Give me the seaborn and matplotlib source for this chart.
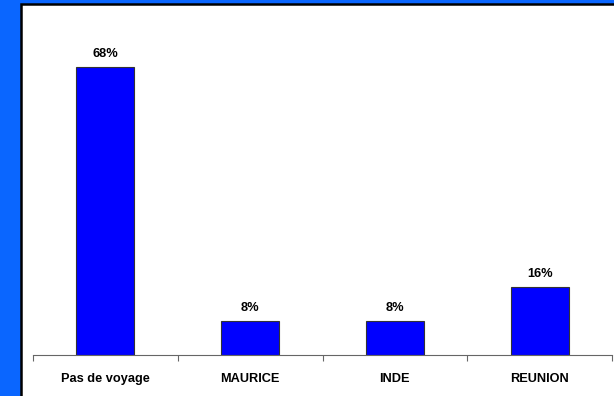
import matplotlib
matplotlib.use("Agg")
import matplotlib.pyplot as plt
import seaborn as sns
import pandas as pd
from matplotlib.patches import Rectangle

categories = ["Pas de voyage", "MAURICE", "INDE", "REUNION"]
values = [68, 8, 8, 16]
labels = ["68%", "8%", "8%", "16%"]

sns.set_style("white")
plt.rcParams['font.family'] = ['Liberation Sans', 'DejaVu Sans']

fig = plt.figure(figsize=(6.14, 3.96), dpi=100)
fig.patch.set_facecolor("#0A66FF")
fig.patches.append(Rectangle((21/614, -0.1), 1.0, (396-4)/396 + 0.1, transform=fig.transFigure,
                             facecolor="white", edgecolor="black", linewidth=1.8, zorder=-10))

ax = fig.add_axes([33/614, (396-355)/396, 579/614, (355-16)/396])
ax.set_zorder(5)
ax.set_facecolor("none")
df = pd.DataFrame({"cat": categories, "val": values})
sns.barplot(data=df, x="cat", y="val", ax=ax, color="#0000FF", width=0.4,
            edgecolor="#333333", linewidth=0.8, saturation=1)
ax.set_ylim(0, 80)
ax.set_xlim(-0.5, 3.5)
for i, (v, l) in enumerate(zip(values, labels)):
    ax.annotate(l, (i, v), xytext=(0, 13), textcoords="offset pixels", ha="center", va="center",
                fontsize=9.2, fontweight="bold", color="black")
for s in ["top", "right", "left"]:
    ax.spines[s].set_visible(False)
ax.spines["bottom"].set_color("#666666")
ax.spines["bottom"].set_linewidth(0.8)
ax.set_yticks([])
ax.set_xticks([-0.5, 0.5, 1.5, 2.5, 3.5], minor=False)
ax.set_xticklabels([])
ax.tick_params(axis="x", which="major", length=4, color="#666666", width=0.8, bottom=True, direction="out")
ax.set_xticks(range(4), minor=True)
ax.set_xticklabels(categories, minor=True, fontsize=9.2, fontweight="bold", color="black")
ax.tick_params(axis="x", which="minor", length=0, pad=13)
ax.set_xlabel("")
ax.set_ylabel("")
fig.savefig("out.png", dpi=100, facecolor=fig.get_facecolor())
